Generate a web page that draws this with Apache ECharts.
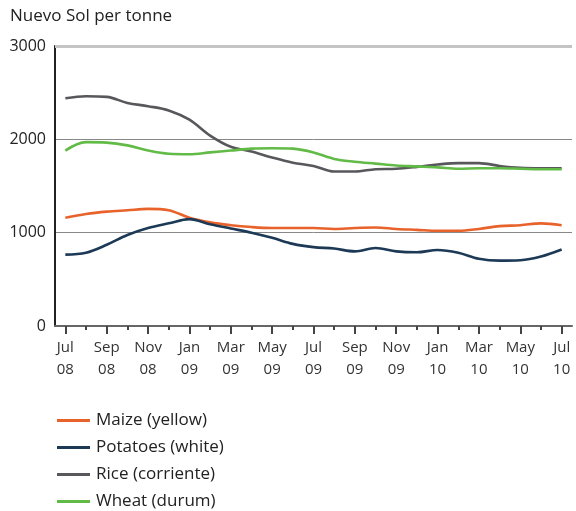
<!DOCTYPE html>
<html>
<head>
<meta charset="utf-8">
<script src="https://cdn.jsdelivr.net/npm/echarts@6/dist/echarts.min.js"></script>
<style>
  html, body { margin: 0; padding: 0; background: #fff; }
  #chart { width: 576px; height: 511px; }
</style>
</head>
<body>
<div id="chart"></div>
<script>
// Monthly prices, Jul 2008 – Jul 2010 (Nuevo Sol per tonne)
const months = [
  'Jul\n08', 'Aug\n08', 'Sep\n08', 'Oct\n08', 'Nov\n08', 'Dec\n08',
  'Jan\n09', 'Feb\n09', 'Mar\n09', 'Apr\n09', 'May\n09', 'Jun\n09',
  'Jul\n09', 'Aug\n09', 'Sep\n09', 'Oct\n09', 'Nov\n09', 'Dec\n09',
  'Jan\n10', 'Feb\n10', 'Mar\n10', 'Apr\n10', 'May\n10', 'Jun\n10',
  'Jul\n10'
];

const maize = [1160, 1200, 1225, 1240, 1255, 1240, 1160, 1110, 1080, 1060, 1050, 1050,
               1050, 1040, 1050, 1055, 1040, 1030, 1020, 1020, 1040, 1070, 1080, 1100, 1080];
const potatoes = [765, 785, 870, 975, 1050, 1100, 1145, 1090, 1045, 1000, 945, 880,
                  845, 830, 800, 835, 800, 790, 815, 785, 720, 700, 705, 745, 820];
const rice = [2440, 2462, 2455, 2390, 2355, 2310, 2210, 2040, 1920, 1870, 1805, 1750,
              1715, 1655, 1655, 1680, 1685, 1705, 1730, 1745, 1745, 1715, 1695, 1690, 1690];
const wheat = [1880, 1970, 1965, 1935, 1880, 1845, 1840, 1860, 1880, 1900, 1905, 1900,
               1860, 1790, 1760, 1740, 1720, 1710, 1700, 1685, 1690, 1690, 1685, 1680, 1680];

const yTicks = [0, 1000, 2000, 3000];

const seriesDefs = [
  { name: 'Maize (yellow)', data: maize, color: '#e8632b' },
  { name: 'Potatoes (white)', data: potatoes, color: '#1c3956' },
  { name: 'Rice (corriente)', data: rice, color: '#58585c' },
  { name: 'Wheat (durum)', data: wheat, color: '#62bb47' }
];

const font = "'Open Sans', 'Noto Sans', sans-serif";
const chart = echarts.init(document.getElementById('chart'));

const series = seriesDefs.map(s => ({
  name: s.name,
  type: 'line',
  data: s.data,
  smooth: 0.35,
  showSymbol: false,
  symbol: 'none',
  lineStyle: { color: s.color, width: 2.6 },
  itemStyle: { color: s.color },
  z: 3
}));

// Top gridline at the axis maximum is drawn heavier and lighter
series[0].markLine = {
  silent: true,
  symbol: 'none',
  label: { show: false },
  lineStyle: { color: '#c4c4c4', width: 3, type: 'solid' },
  data: [{ yAxis: yTicks[yTicks.length - 1] }],
  z: 1
};

chart.setOption({
  animation: false,
  textStyle: { fontFamily: font },
  title: {
    text: 'Nuevo Sol per tonne',
    left: 5,
    top: 3,
    textStyle: { fontFamily: font, fontSize: 17, fontWeight: 'normal', color: '#222' }
  },
  legend: {
    orient: 'vertical',
    left: 52,
    top: 407,
    height: 110,
    icon: 'rect',
    itemWidth: 33,
    itemHeight: 3,
    itemGap: 10,
    textStyle: { fontFamily: font, fontSize: 17, color: '#222', padding: [0, 0, 0, 1] },
    data: seriesDefs.map(s => s.name)
  },
  grid: { left: 55, right: 4, top: 46, bottom: 185, containLabel: false },
  xAxis: [
    {
      type: 'category',
      data: months,
      boundaryGap: true,
      axisLine: { show: true, lineStyle: { color: '#666', width: 2 } },
      axisTick: { show: true, alignWithLabel: true, interval: 0, length: 4, lineStyle: { color: '#444', width: 2 } },
      axisLabel: {
        interval: 1,
        margin: 11,
        fontFamily: font,
        fontSize: 15,
        lineHeight: 22,
        color: '#333'
      },
      splitLine: { show: false }
    },
    {
      // longer ticks under the labelled months
      type: 'category',
      data: months,
      position: 'bottom',
      boundaryGap: true,
      axisLine: { show: false },
      axisTick: { show: true, alignWithLabel: true, interval: 1, length: 8, lineStyle: { color: '#444', width: 2 } },
      axisLabel: { show: false },
      splitLine: { show: false }
    }
  ],
  yAxis: {
    type: 'value',
    min: yTicks[0],
    max: yTicks[yTicks.length - 1],
    interval: 1000,
    axisLine: { show: true, lineStyle: { color: '#222', width: 2 } },
    axisTick: { show: false },
    axisLabel: {
      margin: 9,
      fontFamily: font,
      fontSize: 16,
      color: '#222',
      formatter: v => String(v)
    },
    splitLine: {
      show: true,
      lineStyle: { color: ['#888', '#888', '#888', 'rgba(0,0,0,0)'], width: 1 }
    }
  },
  series: series
});
</script>
</body>
</html>
